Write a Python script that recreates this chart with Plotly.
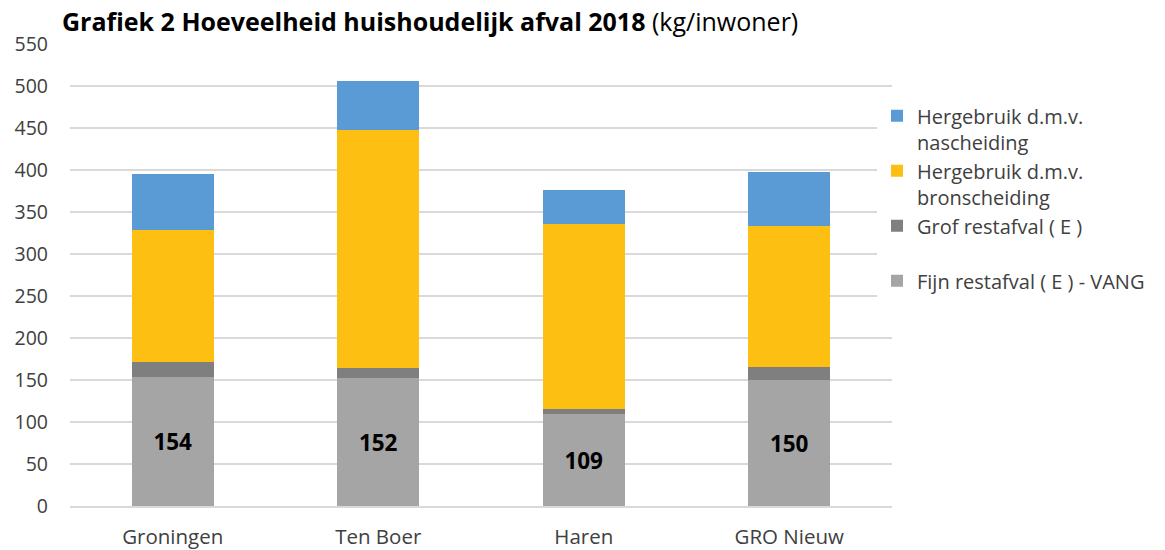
import plotly.graph_objects as go

categories = ["Groningen", "Ten Boer", "Haren", "GRO Nieuw"]
fijn = [154, 152, 109, 150]
grof = [17, 12, 7, 16]
bron = [158, 284, 220, 167]
nasch = [66, 58, 40, 65]
tick_vals = list(range(0, 551, 50))

FONT = "'Open Sans', sans-serif"

fig = go.Figure()
fig.add_bar(x=categories, y=fijn, name="Fijn restafval ( E ) - VANG",
            marker_color="#A5A5A5", text=fijn, textposition="inside",
            insidetextanchor="middle",
            textfont=dict(size=22.5, color="black", family=FONT, weight="bold"),
            legendgroup="d", legendrank=4)
fig.add_bar(x=categories, y=grof, name="Grof restafval ( E )<br> ",
            marker_color="#7F7F7F", legendgroup="c", legendrank=3)
fig.add_bar(x=categories, y=bron, name="Hergebruik d.m.v.<br>bronscheiding",
            marker_color="#FCBF12", legendgroup="b", legendrank=2)
fig.add_bar(x=categories, y=nasch, name="Hergebruik d.m.v.<br>nascheiding",
            marker_color="#5B9BD5", legendgroup="a", legendrank=1)

fig.update_traces(marker_line_width=0, hoverinfo="skip")

fig.update_layout(
    barmode="stack",
    bargap=0.6,
    width=1165, height=550,
    margin=dict(l=70, r=273, t=44, b=44, autoexpand=False),
    paper_bgcolor="white", plot_bgcolor="white",
    font=dict(family=FONT, size=19.5, color="#404040"),
    title=dict(
        text="<b>Grafiek 2 Hoeveelheid huishoudelijk afval 2018</b> (kg/inwoner)",
        x=62 / 1165, xref="container", xanchor="left",
        y=1 - 22 / 550, yref="container", yanchor="middle",
        font=dict(size=25, color="black", family=FONT),
    ),
    legend=dict(
        x=877 / 1165, xref="container", xanchor="left",
        y=0.887, yanchor="top",
        valign="top", traceorder="normal",
        font=dict(size=20, color="#404040", family=FONT),
        tracegroupgap=12, itemwidth=30,
    ),
    yaxis=dict(range=[0, 550], tickvals=tick_vals, showgrid=True,
               gridcolor="#D9D9D9", gridwidth=1.5, zeroline=False,
               showline=False, ticks="", ticklabelstandoff=21,
               automargin=False,
               tickfont=dict(size=19.5, color="#404040")),
    xaxis=dict(showline=True, linecolor="#D9D9D9", linewidth=1.5, ticks="",
               automargin=False,
               tickfont=dict(size=20.5, color="#404040"), ticklabelstandoff=12),
)

fig.write_html("out.html", config={"displayModeBar": False},
               post_script="document.body.style.margin='0';document.body.style.padding='0';")
